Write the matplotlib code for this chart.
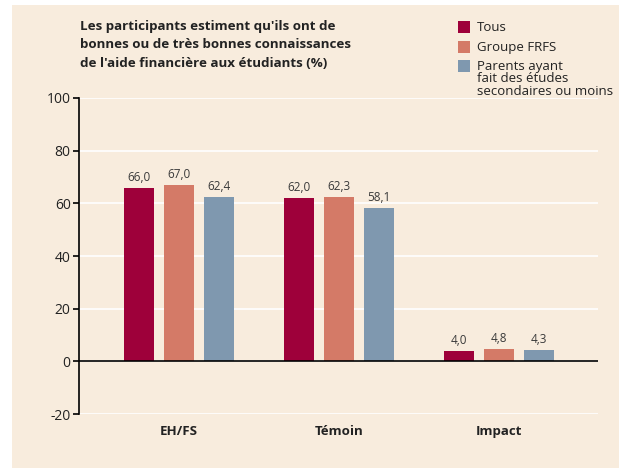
import numpy as np
import matplotlib.pyplot as plt
from matplotlib.patches import Rectangle

plt.rcParams['font.family'] = ['Open Sans', 'DejaVu Sans']

# --- data ---
categories = ['EH/FS', 'Témoin', 'Impact']
series_names = ['Tous', 'Groupe FRFS', 'Parents ayant\nfait des études\nsecondaires ou moins']
tous = [66.0, 62.0, 4.0]
groupe_frfs = [67.0, 62.3, 4.8]
parents = [62.4, 58.1, 4.3]
yticks = [-20, 0, 20, 40, 60, 80, 100]

colors = ['#9E003A', '#D47A67', '#7F98AF']
bg = '#F8ECDD'

fig = plt.figure(figsize=(6.19, 4.68), dpi=100)
fig.patch.set_facecolor('white')
fig.add_artist(Rectangle((12 / 619, 0), 1, 1 - 5 / 468, transform=fig.transFigure,
                         facecolor=bg, edgecolor='none', zorder=-10))

ax = fig.add_axes([79 / 619, 1 - 414 / 468, (598 - 79) / 619, (414 - 98) / 468])
ax.set_facecolor('none')
ax.set_zorder(2)

x = np.arange(len(categories))
width = 0.1875
offsets = [-0.25, 0, 0.25]
for vals, off, col in zip([tous, groupe_frfs, parents], offsets, colors):
    bars = ax.bar(x + off, vals, width, color=col, zorder=3)
    for b, v in zip(bars, vals):
        ax.text(b.get_x() + b.get_width() / 2, v + 1.5, f'{v:.1f}'.replace('.', ','),
                ha='center', va='bottom', fontsize=8.5, color='#3a3a3a', zorder=4)

ax.set_ylim(-20, 100)
ax.set_xlim(-0.625, 2.62)
ax.set_yticks(yticks)
ax.set_yticklabels([str(t) for t in yticks], fontsize=10, color='#222222')
for t in yticks:
    ax.axhline(t, color='white', lw=1.2, zorder=1)
ax.axhline(0, color='black', lw=1.2, zorder=5)

ax.set_xticks(x)
ax.set_xticklabels(categories, fontsize=9.5, fontweight='bold', color='#222222')
ax.tick_params(axis='x', length=0, pad=8)
ax.tick_params(axis='y', length=4, width=1.2, pad=2)
for s in ['top', 'right', 'bottom']:
    ax.spines[s].set_visible(False)
ax.spines['left'].set_linewidth(1.2)

# title
fig.text(80 / 619, 1 - 20 / 468,
         "Les participants estiment qu'ils ont de\nbonnes ou de très bonnes connaissances\nde l'aide financière aux étudiants (%)",
         ha='left', va='top', fontsize=9.6, fontweight='bold', color='#222222', linespacing=1.55)

# legend
ly = [27, 47, 66]
for name, col, yy in zip(series_names, colors, ly):
    fig.add_artist(Rectangle((458 / 619, 1 - (yy + 6) / 468), 12 / 619, 12 / 468,
                             transform=fig.transFigure, facecolor=col, edgecolor='none'))
    fig.text(477 / 619, 1 - (yy - 6) / 468, name, ha='left', va='top', fontsize=9.5,
             color='#222222', linespacing=0.95)

fig.savefig('out.png', dpi=100, facecolor=fig.get_facecolor())
